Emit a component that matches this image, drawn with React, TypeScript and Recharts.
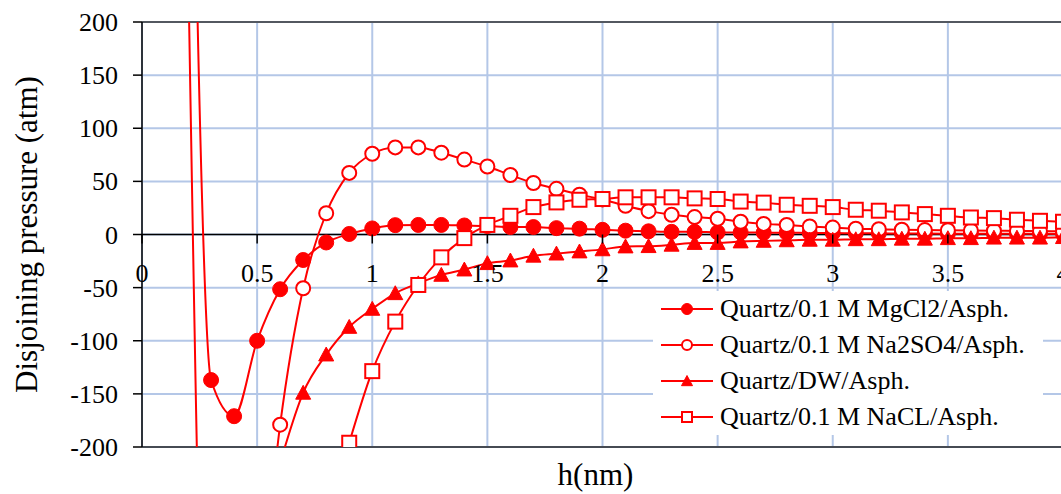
import React from 'react';
import { LineChart, Line, XAxis, YAxis, CartesianGrid, ReferenceLine, Legend } from 'recharts';

const FONT = '"Liberation Serif", "Times New Roman", serif';
const RED = '#ff0000';
const GRID = '#b4c7e7';

const CHART_W = 1075;
const CHART_H = 494;
const PLOT_TOP = 22;
const PLOT_H = 425;
const ZERO_Y = PLOT_TOP + PLOT_H / 2;

// film thickness h (nm)
const thickness = [
  0.2, 0.3, 0.4, 0.5, 0.6, 0.7, 0.8, 0.9, 1.0, 1.1, 1.2, 1.3, 1.4, 1.5, 1.6, 1.7, 1.8, 1.9, 2.0,
  2.1, 2.2, 2.3, 2.4, 2.5, 2.6, 2.7, 2.8, 2.9, 3.0, 3.1, 3.2, 3.3, 3.4, 3.5, 3.6, 3.7, 3.8, 3.9, 4.0,
];

// disjoining pressure (atm) per brine
const mgcl2 = [
  650, -137, -171, -100, -51.5, -24, -7.5, 0.5, 5.7, 8.8, 9, 9, 8.5, 8, 7, 7, 6, 5.5, 4.4,
  3.6, 3, 2.5, 2.5, 2, 2, 1.8, 1.6, 1.5, 1.3, 1.2, 1.1, 1, 0.9, 0.8, 0.7, 0.7, 0.6, 0.6, 0.5,
];
const na2so4 = [
  260, -590, -520, -380, -179, -50.6, 20, 58, 76, 82, 82, 77, 70.5, 64, 56, 48.5, 43, 37.5, 33,
  27, 22, 18.6, 16.4, 14.8, 12, 10, 9, 7.5, 6.5, 5.5, 5, 4.5, 4.2, 4, 3.8, 3.6, 3.4, 3.2, 3,
];
const dw = [
  null, null, null, null, -215, -149, -113, -87, -70, -55.3, -46, -38, -33, -27, -24.5, -20, -18, -16, -14,
  -11.3, -11, -9.7, -8, -8, -6.6, -6, -5.5, -5, -5, -4.5, -4.5, -4, -4, -3.5, -3.5, -3, -3, -3, -2.5,
];
const nacl = [
  null, null, null, null, null, null, null, -196, -128.6, -82, -47.5, -21.5, -3.4, 9, 17.6, 25.8, 30.2, 32.7, 33.4,
  35, 35, 35, 34, 33.4, 31, 30, 28, 27, 25.8, 23.3, 22.4, 20.8, 19.2, 17.6, 16, 15.4, 13.9, 12.9, 12,
];

const xTicks = [0, 0.5, 1, 1.5, 2, 2.5, 3, 3.5, 4];
const yTicks = [-200, -150, -100, -50, 0, 50, 100, 150, 200];

type MarkerKind = 'dot' | 'circle' | 'triangle' | 'square';

const seriesList: { key: string; name: string; marker: MarkerKind }[] = [
  { key: 'mgcl2', name: 'Quartz/0.1 M MgCl2/Asph.', marker: 'dot' },
  { key: 'na2so4', name: 'Quartz/0.1 M Na2SO4/Asph.', marker: 'circle' },
  { key: 'dw', name: 'Quartz/DW/Asph.', marker: 'triangle' },
  { key: 'nacl', name: 'Quartz/0.1 M NaCL/Asph.', marker: 'square' },
];

const data = thickness.map((h, i) => ({
  h,
  mgcl2: mgcl2[i],
  na2so4: na2so4[i],
  dw: dw[i],
  nacl: nacl[i],
}));

const textStyle = { fontFamily: FONT, fill: '#000' };

function Marker({ kind, cx, cy, size }: { kind: MarkerKind; cx: number; cy: number; size: number }) {
  const s = size;
  switch (kind) {
    case 'dot':
      return <circle cx={cx} cy={cy} r={s} fill={RED} stroke={RED} strokeWidth={1} />;
    case 'circle':
      return <circle cx={cx} cy={cy} r={s - 0.5} fill="#fff" stroke={RED} strokeWidth={2} />;
    case 'triangle':
      return (
        <polygon
          points={`${cx},${cy - s} ${cx + s},${cy + s * 0.85} ${cx - s},${cy + s * 0.85}`}
          fill={RED}
          stroke={RED}
          strokeWidth={1}
        />
      );
    default:
      return <rect x={cx - s + 0.5} y={cy - s + 0.5} width={2 * s - 1} height={2 * s - 1} fill="#fff" stroke={RED} strokeWidth={2} />;
  }
}

// points beyond the ±200 atm window get no marker
const makeDot = (kind: MarkerKind) => (p: any) => {
  const key = `dot-${kind}-${p.index}`;
  if (p.value == null || p.cy == null || Math.abs(p.value) > 200) return <g key={key} />;
  return (
    <g key={key}>
      <Marker kind={kind} cx={p.cx} cy={p.cy} size={7.5} />
    </g>
  );
};

function XTick({ x, payload }: any) {
  return (
    <g>
      <line x1={x} y1={ZERO_Y} x2={x} y2={ZERO_Y + 9} stroke="#000" strokeWidth={1.5} />
      <text x={x} y={ZERO_Y + 47} textAnchor="middle" fontFamily={FONT} fontSize={26} style={{ ...textStyle, fontSize: 26 }}>
        {payload.value}
      </text>
    </g>
  );
}

function YTick({ x, y, payload }: any) {
  return (
    <text x={x} y={y} dy={9} textAnchor="end" fontFamily={FONT} fontSize={26} style={{ ...textStyle, fontSize: 26 }}>
      {payload.value}
    </text>
  );
}

function LegendBox() {
  return (
    <div style={{ background: '#fff', width: 390, height: 144, paddingLeft: 8, boxSizing: 'border-box' }}>
      {seriesList.map((s) => (
        <div key={s.key} style={{ display: 'flex', alignItems: 'center', height: 36 }}>
          <svg width={52} height={20} style={{ flex: 'none' }}>
            <line x1={0} y1={10} x2={52} y2={10} stroke={RED} strokeWidth={2} />
            <Marker kind={s.marker} cx={26} cy={10} size={5.5} />
          </svg>
          <span style={{ marginLeft: 7, fontFamily: FONT, fontSize: 26, color: '#000', whiteSpace: 'nowrap' }}>{s.name}</span>
        </div>
      ))}
    </div>
  );
}

export default function App() {
  return (
    <div
      style={{
        position: 'absolute',
        left: 0,
        top: 0,
        width: 1061,
        height: 494,
        overflow: 'hidden',
        background: '#fff',
        fontFamily: FONT,
      }}
    >
      <style>{`.pressure-chart svg text { font-family: "Liberation Serif", "Times New Roman", serif !important; }`}</style>
      <LineChart
        className="pressure-chart"
        width={CHART_W}
        height={CHART_H}
        data={data}
        margin={{ top: PLOT_TOP, right: 12, bottom: 17, left: 0 }}
      >
        <CartesianGrid stroke={GRID} strokeWidth={2} />
        <XAxis
          dataKey="h"
          type="number"
          domain={[0, 4]}
          ticks={xTicks}
          allowDataOverflow
          height={30}
          axisLine={false}
          tickLine={false}
          tickSize={0}
          tick={<XTick />}
          label={{ value: 'h(nm)', position: 'insideTop', offset: 16, dx: -7, style: { ...textStyle, fontSize: 31 } }}
        />
        <YAxis
          type="number"
          domain={[-200, 200]}
          ticks={yTicks}
          allowDataOverflow
          width={142}
          axisLine={{ stroke: '#000', strokeWidth: 1.5 }}
          tickLine={{ stroke: '#000', strokeWidth: 1.5 }}
          tickSize={9}
          tickMargin={15}
          tick={<YTick />}
          label={{
            value: 'Disjoining pressure (atm)',
            angle: -90,
            position: 'insideLeft',
            offset: 26,
            style: { ...textStyle, textAnchor: 'middle', fontSize: 31 },
          }}
        />
        <ReferenceLine y={200} stroke="#333" strokeWidth={1.5} />
        <ReferenceLine y={-200} stroke="#222" strokeWidth={1.5} />
        <ReferenceLine y={0} stroke="#000" strokeWidth={1.5} />
        {seriesList.map((s) => (
          <Line
            key={s.key}
            dataKey={s.key}
            name={s.name}
            type="monotone"
            stroke={RED}
            strokeWidth={2}
            dot={makeDot(s.marker)}
            activeDot={false}
            isAnimationActive={false}
          />
        ))}
        <Legend
          layout="vertical"
          align="center"
          verticalAlign="middle"
          content={() => <LegendBox />}
          wrapperStyle={{ position: 'absolute', left: 653, top: 291, width: 390, height: 144 }}
        />
      </LineChart>
    </div>
  );
}
